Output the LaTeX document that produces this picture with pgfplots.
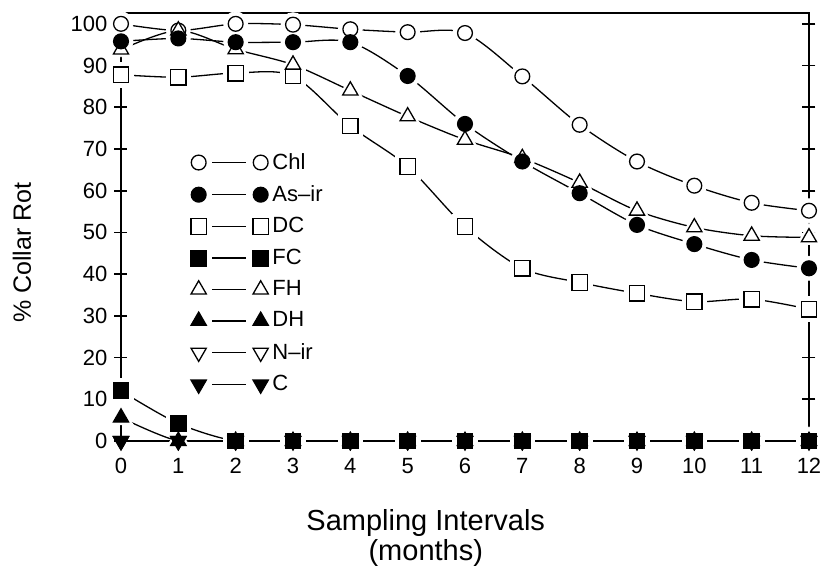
\documentclass[border=0pt]{standalone}
\usepackage{fontspec}
\setmainfont{Liberation Sans}
\usepackage{pgfplots}
\usepackage{pgfplotstable}
\pgfplotsset{compat=1.18}

% % collar rot per sampling interval (months)
\pgfplotstableread{
x   chl   asir  dc    fc    fh    dh   nir  c
0   100   95.8  87.8  12.0  93.8  5.6  0    0
1   98.4  96.5  87.2  4.2   98.4  0    0    0
2   100   95.6  88.2  0     93.9  0    0    0
3   99.8  95.6  87.5  0     90.2  0    0    0
4   98.7  95.6  75.5  0     84.0  0    0    0
5   98.0  87.5  65.8  0     77.8  0    0    0
6   97.8  76.0  51.4  0     72.2  0    0    0
7   87.4  67.0  41.4  0     67.8  0    0    0
8   75.8  59.4  38.0  0     61.9  0    0    0
9   67.0  51.8  35.4  0     55.2  0    0    0
10  61.2  47.2  33.4  0     51.2  0    0    0
11  57.1  43.4  34.0  0     49.2  0    0    0
12  55.2  41.4  31.6  0     48.8  0    0    0
}\collar

\pgfplotsset{
  ln/.style={black, line width=0.65pt, smooth, tension=0.5, no marks, forget plot},
  mk/.style={black, line width=0.65pt, only marks, forget plot},
  halo/.style={white, only marks, forget plot, mark options={draw=white, fill=white}},
  m-ocirc/.style={mark=*, mark size=3.7pt, mark options={fill=white}},
  m-fcirc/.style={mark=*, mark size=3.7pt, mark options={fill=black}},
  m-osq/.style={mark=square*, mark size=3.9pt, mark options={fill=white}},
  m-fsq/.style={mark=square*, mark size=3.9pt, mark options={fill=black}},
  m-otri/.style={mark=triangle*, mark size=4.4pt, mark options={fill=white}},
  m-ftri/.style={mark=triangle*, mark size=4.4pt, mark options={fill=black}},
  m-odtri/.style={mark=triangle*, mark size=4.4pt, mark options={fill=white, rotate=180}},
  m-fdtri/.style={mark=triangle*, mark size=4.4pt, mark options={fill=black, rotate=180}},
}

\begin{document}
\begin{tikzpicture}
\useasboundingbox (-60.5pt,-65pt) rectangle (350pt,220.5pt);
\begin{axis}[
  scale only axis,
  width=344pt, height=214pt,
  xmin=0, xmax=12, ymin=0, ymax=102.6,
  xtick={0,1,...,12}, ytick={0,10,...,100},
  xtick pos=lower, ytick pos=both, yticklabel pos=left,
  tick align=center,
  major tick length=6.5pt,
  axis line style={line width=1pt},
  tick style={line width=0.9pt, black},
  axis on top,
  /pgf/number format/assume math mode=true,
  tick label style={font=\fontsize{11}{12}\selectfont},
  xticklabel style={yshift=-2pt},
  every axis y label/.style={at={(axis description cs:0,0.44)}, xshift=-49.5pt, rotate=90, anchor=center, font=\fontsize{12.5}{14}\selectfont},
  every axis x label/.style={at={(axis description cs:0.443,0)}, yshift=-48.5pt, anchor=center, align=center, font=\fontsize{14.5}{13.5}\selectfont},
  ylabel={\% Collar Rot},
  xlabel={Sampling Intervals\\(months)},
  legend image code/.code={
    \draw[#1, mark=none] (6.8pt,0pt) -- (23.5pt,0pt);
    \draw[#1, only marks] plot coordinates {(0pt,0pt) (31pt,0pt)};
  },
  legend style={draw=none, fill=none, at={(0.101,0.683)}, anchor=north west,
    inner sep=0pt, row sep=2.6pt, font=\fontsize{11}{12}\selectfont},
  legend cell align=left,
]
% lines
\addplot[ln] table[y=chl]  {\collar};
\addplot[ln] table[y=asir] {\collar};
\addplot[ln] table[y=dc]   {\collar};
\addplot[ln] table[y=fc]   {\collar};
\addplot[ln] table[y=fh]   {\collar};
\addplot[ln] table[y=dh]   {\collar};
\addplot[ln] table[y=nir]  {\collar};
\addplot[ln] table[y=c]    {\collar};
% white halos so the lines stop short of the symbols
\addplot[halo, mark=*, mark size=6pt] table[y=chl]  {\collar};
\addplot[halo, mark=*, mark size=6pt] table[y=asir] {\collar};
\addplot[halo, mark=square*, mark size=6.2pt] table[y=dc] {\collar};
\addplot[halo, mark=square*, mark size=6.2pt] table[y=fc] {\collar};
\addplot[halo, mark=triangle*, mark size=7pt] table[y=fh] {\collar};
\addplot[halo, mark=triangle*, mark size=7pt] table[y=dh] {\collar};
% symbols
\addplot[mk, m-ocirc]  table[y=chl]  {\collar};
\addplot[mk, m-osq]    table[y=dc]   {\collar};
\addplot[mk, m-otri]   table[y=fh]   {\collar};
\addplot[mk, m-fcirc]  table[y=asir] {\collar};
\addplot[mk, m-odtri]  table[y=nir]  {\collar};
\addplot[mk, m-fdtri]  table[y=c]    {\collar};
\addplot[mk, m-ftri]   table[y=dh]   {\collar};
\addplot[mk, m-fsq]    table[y=fc]   {\collar};
% legend
\addlegendimage{mk, m-ocirc}
\addlegendimage{mk, m-fcirc}
\addlegendimage{mk, m-osq}
\addlegendimage{mk, m-fsq}
\addlegendimage{mk, m-otri}
\addlegendimage{mk, m-ftri}
\addlegendimage{mk, m-odtri}
\addlegendimage{mk, m-fdtri}
\legend{Chl, As--ir, DC, FC, FH, DH, N--ir, C}
\end{axis}
\end{tikzpicture}
\end{document}
